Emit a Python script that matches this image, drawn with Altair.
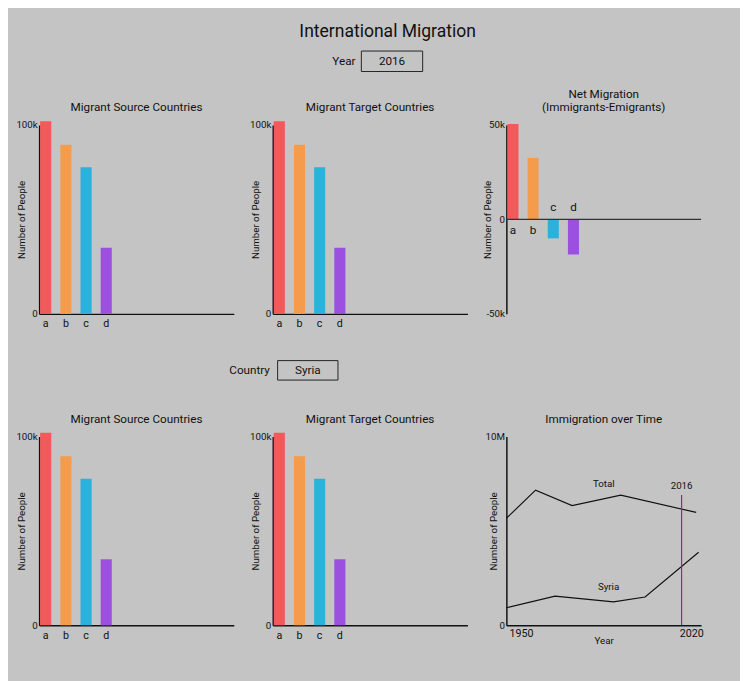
import altair as alt
import pandas as pd

# values
countries = ["a", "b", "c", "d"]
pad_slots = ["e", "f", "g", "h", "i", "j"]
source_people = [102000, 89600, 77700, 35000]
target_people = [102000, 89600, 77700, 35000]
net_people = [50500, 32600, -10000, -18500]
bar_colors = ["#f05a5a", "#f59b4c", "#2cb0dc", "#9b50e0"]

total_years = [1944, 1956, 1971, 1991, 2022]
total_people = [5.67e6, 7.16e6, 6.34e6, 6.9e6, 5.98e6]
syria_years = [1944, 1964, 1988, 2001, 2023]
syria_people = [0.93e6, 1.55e6, 1.24e6, 1.5e6, 3.87e6]

year_sel = 2016
country_sel = "Syria"

FONT = "Roboto"
W, H = 200, 194

x_scale = alt.Scale(domain=countries + pad_slots, paddingInner=0.45, paddingOuter=0.05)
color = alt.Color("country:N", scale=alt.Scale(domain=countries, range=bar_colors), legend=None)


def bar_panel(values, title):
    df = pd.DataFrame({"country": countries, "people": values})
    return alt.Chart(df, title=title).mark_bar(clip=False).encode(
        x=alt.X("country:N", scale=x_scale, title=None,
                axis=alt.Axis(labelExpr="indexof(['a','b','c','d'], datum.value) >= 0 ? datum.label : ''",
                              ticks=False, labelAngle=0, labelFontSize=11, labelPadding=4)),
        y=alt.Y("people:Q", scale=alt.Scale(domain=[0, 100000]), title="Number of People",
                axis=alt.Axis(values=[0, 100000], labelExpr="datum.value == 0 ? '0' : '100k'",
                              ticks=False, grid=False, titleX=-13, titleY=H / 2)),
        color=color,
    ).properties(width=W, height=H)


def net_panel():
    df = pd.DataFrame({"country": countries, "people": net_people})
    base = alt.Chart(df).encode(x=alt.X("country:N", scale=x_scale, axis=None))
    bars = base.mark_bar().encode(
        y=alt.Y("people:Q", scale=alt.Scale(domain=[-50000, 50000]), title="Number of People",
                axis=alt.Axis(values=[-50000, 0, 50000],
                              labelExpr="datum.value == 0 ? '0' : (datum.value > 0 ? '50k' : '-50k')",
                              ticks=False, grid=False, titleX=-14, titleY=H / 2)),
        color=color,
    )
    zero = alt.Chart(pd.DataFrame({"z": [0]})).mark_rule(color="#333", strokeWidth=1.2).encode(
        y="z:Q", x=alt.value(0), x2=alt.value(W))
    pos = base.transform_filter("datum.people >= 0").mark_text(baseline="top", dy=6, fontSize=12).encode(
        y=alt.datum(0), text="country:N")
    neg = base.transform_filter("datum.people < 0").mark_text(baseline="bottom", dy=-6, fontSize=12).encode(
        y=alt.datum(0), text="country:N")
    return alt.layer(bars, zero, pos, neg, title=alt.Title(["Net Migration", "(Immigrants-Emigrants)"])
                     ).properties(width=W, height=H)


def time_panel():
    df = pd.DataFrame({
        "year": total_years + syria_years,
        "people": total_people + syria_people,
        "series": ["Total"] * 5 + [country_sel] * 5,
    })
    x = alt.X("year:Q", scale=alt.Scale(domain=[1944, 2024], nice=False), title="Year",
              axis=alt.Axis(values=[1950, 2020], format="d", ticks=False, grid=False,
                            labelFontSize=11, titlePadding=-2))
    y = alt.Y("people:Q", scale=alt.Scale(domain=[0, 1e7]), title="Number of People",
              axis=alt.Axis(values=[0, 1e7], labelExpr="datum.value == 0 ? '0' : '10M'",
                            ticks=False, grid=False, titleX=-8, titleY=H / 2))
    lines = alt.Chart(df).mark_line(color="#111", strokeWidth=1.2).encode(x=x, y=y, detail="series:N")
    rule_df = pd.DataFrame({"year": [year_sel], "lo": [0], "hi": [6.9e6]})
    rule = alt.Chart(rule_df).mark_rule(color="#b01e68", strokeWidth=1.2).encode(
        x="year:Q", y="lo:Q", y2="hi:Q")
    rule_lbl = alt.Chart(rule_df).mark_text(baseline="bottom", dy=-4, fontSize=10).encode(
        x="year:Q", y="hi:Q", text=alt.value(str(year_sel)))
    lbl_df = pd.DataFrame({"year": [1984, 1986], "people": [7.2e6, 1.75e6], "t": ["Total", country_sel]})
    lbls = alt.Chart(lbl_df).mark_text(fontSize=10, baseline="bottom").encode(x="year:Q", y="people:Q", text="t:N")
    return alt.layer(lines, rule, rule_lbl, lbls, title="Immigration over Time").properties(width=W, height=H)


def header(label, value, hh, label_x, box_x0, box_x1, box_y0, box_y1, main_title=None):
    base = alt.Chart(pd.DataFrame({"v": [value]}))
    layers = []
    if main_title:
        layers.append(base.mark_text(fontSize=18, baseline="alphabetic").encode(
            x=alt.value(358), y=alt.value(21), text=alt.value(main_title)))
    layers.append(base.mark_text(fontSize=12, align="right", baseline="middle").encode(
        x=alt.value(label_x), y=alt.value((box_y0 + box_y1) / 2), text=alt.value(label)))
    layers.append(base.mark_rect(fill="#c4c4c4", stroke="#222", strokeWidth=1).encode(
        x=alt.value(box_x0), x2=alt.value(box_x1), y=alt.value(box_y0), y2=alt.value(box_y1)))
    layers.append(base.mark_text(fontSize=12, baseline="middle").encode(
        x=alt.value((box_x0 + box_x1) / 2), y=alt.value((box_y0 + box_y1) / 2), text="v:N"))
    return alt.layer(*layers).properties(width=700, height=hh)


row1 = alt.hconcat(bar_panel(source_people, "Migrant Source Countries"),
                   bar_panel(target_people, "Migrant Target Countries"),
                   net_panel(), spacing=40, bounds="flush")
row2 = alt.hconcat(bar_panel(source_people, "Migrant Source Countries"),
                   bar_panel(target_people, "Migrant Target Countries"),
                   time_panel(), spacing=40, bounds="flush")

head1 = header("Year", str(year_sel), 73, 325, 331, 394, 35, 56, main_title="International Migration")
head2 = header("Country", country_sel, 87, 237, 245, 307, 33, 53)

chart = alt.vconcat(head1, row1, head2, row2, spacing=0).configure(
    background="#c4c4c4", font=FONT, padding={"left": 8, "top": 0, "right": 20, "bottom": 30}
).configure_view(strokeOpacity=0).configure_title(
    fontSize=12, fontWeight="normal", color="#111", offset=6
).configure_axis(
    domainColor="#111", domainWidth=1.5, labelColor="#111", titleColor="#111",
    labelFontSize=10, titleFontSize=10, titleFontWeight="normal"
).configure_text(color="#111", font=FONT)

chart.save("out.html", embed_options={"renderer": "svg", "actions": False})
